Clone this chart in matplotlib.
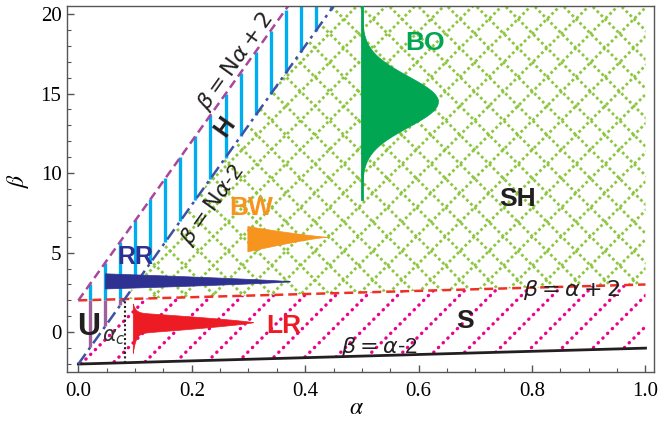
import numpy as np
import matplotlib
import matplotlib.pyplot as plt
from matplotlib.patches import Polygon

matplotlib.use("Agg")

plt.rcParams["mathtext.fontset"] = "stix"
plt.rcParams["font.family"] = ["Liberation Sans", "DejaVu Sans"]

# ---- data -------------------------------------------------------------
N = 50
alpha_lim = (-0.02, 1.015)
beta_lim = (-2.5, 20.5)
x_ticks = [0.0, 0.2, 0.4, 0.6, 0.8, 1.0]
y_ticks = [0, 5, 10, 15, 20]
alpha_max = 1.0
alpha_c = 4 / (N - 1)  # where beta = N*alpha - 2 meets beta = alpha + 2

# BO : gaussian lobe standing on alpha = 0.5
bo_alpha = 0.5
bo_beta_range = (8.4, 20.5)
bo_peak_beta = 14.5
bo_peak_width = 0.134
bo_sigma = 1.6

# wedges: (alpha start, alpha tip, top, bottom, tip beta, taper power)
bw_wedge = (0.298, 0.438, 6.67, 5.08, 6.0, 1.2)
rr_wedge = (0.047, 0.373, 3.7, 2.75, 3.2, 0.8)
lr_wedge = (0.096, 0.308, 1.25, -0.07, 0.63, 0.8)
lr_spike = (0.55, 1.23)  # extra height up / down of the left spike

# labels: text, alpha, beta, colour, size
region_labels = [
    ("BO", 0.611, 18.2, "#00a651", 19),
    ("SH", 0.775, 8.4, "#231f20", 19),
    ("BW", 0.304, 7.83, "#f7941d", 19),
    ("RR", 0.101, 4.7, "#2e3192", 18),
    ("LR", 0.362, 0.38, "#ed1c24", 19),
    ("S", 0.681, 0.69, "#231f20", 19),
    ("U", 0.0185, 0.31, "#231f20", 23),
]

# ---- figure -------------------------------------------------------------
W, H = 659, 422
fig = plt.figure(figsize=(W / 100, H / 100), dpi=100)
ax_l, ax_r, ax_t, ax_b = 67, 654, 6, 372
ax = fig.add_axes([ax_l / W, 1 - ax_b / H, (ax_r - ax_l) / W, (ax_b - ax_t) / H])
ax.set_xlim(*alpha_lim)
ax.set_ylim(*beta_lim)

# pixels per data unit, used for 45 degree hatching
sx = (ax_r - ax_l) / (alpha_lim[1] - alpha_lim[0])
sy = (ax_b - ax_t) / (beta_lim[1] - beta_lim[0])
k45 = sx / sy

top = beta_lim[1]
a_top_plus = (top - 2) / N   # beta = N*alpha + 2 reaches the top
a_top_minus = (top + 2) / N  # beta = N*alpha - 2 reaches the top


def region(verts):
    p = Polygon(verts, closed=True, facecolor="none", edgecolor="none")
    ax.add_patch(p)
    return p


def hatch(clip, direction, spacing_px, color, lw, style, cap):
    step = spacing_px / sx
    a = np.array(alpha_lim)
    if direction > 0:
        starts = np.arange(alpha_lim[0] - top / k45, alpha_lim[1] + 3 / k45, step)
    else:
        starts = np.arange(alpha_lim[0] - 3 / k45, alpha_lim[1] + top / k45, step)
    for a0 in starts:
        ln, = ax.plot(a, direction * k45 * (a - a0), color=color, lw=lw,
                      linestyle=style, dash_capstyle=cap, zorder=1)
        ln.set_clip_path(clip)


# SH: green lattice
sh_clip = region([(alpha_c, alpha_c + 2), (alpha_max, alpha_max + 2),
                  (alpha_max, top), (a_top_minus, top)])
for d in (1, -1):
    hatch(sh_clip, d, 29, "#8dc63f", 2.0, (0, (1, 1)), "butt")

# S: magenta dotted diagonals
s_clip = region([(0, -2), (alpha_max, alpha_max - 2), (alpha_max, alpha_max + 2),
                 (alpha_c, alpha_c + 2)])
hatch(s_clip, 1, 31, "#ec008c", 2.4, (0, (0.1, 1.9)), "round")

# H and U: vertical stripes
for a in np.arange(0.021, 0.45, 0.0265):
    hi = min(N * a + 2, top)
    lo = max(a + 2, N * a - 2)
    if hi > lo:
        ax.plot([a, a], [lo, hi], color="#00aeef", lw=2.4, zorder=1,
                solid_capstyle="butt")
    if N * a - 2 < a + 2:
        ax.plot([a, a], [N * a - 2, a + 2], color="#a0609c", lw=2.4, zorder=1,
                solid_capstyle="butt")

# ---- boundary lines ------------------------------------------------------
a_line = np.array([0, alpha_max])
ax.plot(a_line, a_line - 2, color="#231f20", lw=2.0, zorder=2)
ax.plot(a_line, a_line + 2, color="#ee3124", lw=1.8, ls=(0, (3.6, 2)), zorder=2)
ax.plot([0, a_top_plus], [2, top], color="#a8479b", lw=1.8, ls=(0, (3.5, 2)), zorder=2)
ax.plot([0, a_top_minus], [-2, top], color="#3f51a3", lw=1.8,
        ls=(0, (5, 2, 1.2, 2)), zorder=2)
ax.plot([alpha_c, alpha_c], [alpha_c - 2, alpha_c + 2], color="#231f20",
        lw=1.5, ls=(0, (1, 1.2)), zorder=2)


# ---- shapes --------------------------------------------------------------
def wedge(w, color, spike=None):
    a0, a1, hi, lo, tip, p = w
    a = np.linspace(a0, a1, 400)
    env = (1 - (a - a0) / (a1 - a0)) ** p
    upper = tip + (hi - tip) * env
    lower = tip - (tip - lo) * env
    if spike is not None:
        dec = np.exp(-(a - a0) / 0.005)
        upper = upper + spike[0] * dec
        lower = lower - spike[1] * dec
    ax.fill_between(a, lower, upper, color=color, lw=0.5, zorder=3)


wedge(bw_wedge, "#f7941d")
wedge(rr_wedge, "#2e3192")
wedge(lr_wedge, "#ed1c24", lr_spike)

b = np.linspace(*bo_beta_range, 400)
ax.fill_betweenx(b, bo_alpha,
                 bo_alpha + bo_peak_width * np.exp(-(b - bo_peak_beta) ** 2 / (2 * bo_sigma ** 2)),
                 color="#00a651", lw=0.5, zorder=3)
ax.plot([bo_alpha, bo_alpha], bo_beta_range, color="#00a651", lw=2, zorder=3)

# ---- text ----------------------------------------------------------------
rot = np.degrees(np.arctan(N * sy / sx))
for txt, a, bb, c, s in region_labels:
    ax.text(a, bb, txt, color=c, fontsize=s, fontweight="bold",
            ha="center", va="center", zorder=4)
ax.text(0.258, 12.9, "H", color="#231f20", fontsize=18, fontweight="bold",
        rotation=rot, ha="center", va="center", zorder=4)
ax.text(0.063, -0.3, r"$\alpha_c$", color="#333333", fontsize=15,
        math_fontfamily="dejavusans", ha="center", va="center", zorder=4)

eq_kw = dict(color="#231f20", fontsize=16, math_fontfamily="dejavusans",
             ha="center", va="center", zorder=4, rotation_mode="anchor")
ax.text(0.276, 17.0, r"$\beta=\mathrm{N}\alpha+2$", rotation=rot, **eq_kw)
ax.text(0.236, 8.0, r"$\beta=\mathrm{N}\alpha$-2", rotation=rot, **eq_kw)
ax.text(0.869, 2.64, r"$\beta=\alpha+2$", **eq_kw)
ax.text(0.53, -0.94, r"$\beta=\alpha$-2", **eq_kw)

# ---- axes styling ---------------------------------------------------------
ax.set_xticks(x_ticks)
ax.set_yticks(y_ticks)
ax.set_xticks(np.arange(0, 1.001, 0.05), minor=True)
ax.set_yticks(np.arange(-2, 20.5, 1), minor=True)
ax.set_xticklabels([f"{v:.1f}" for v in x_ticks])
for lab in ax.get_xticklabels() + ax.get_yticklabels():
    lab.set_family("Liberation Serif")
    lab.set_fontsize(15)
ax.tick_params(which="both", direction="in", color="#555555", top=False, right=False)
ax.tick_params(which="major", length=5, width=1)
ax.tick_params(which="minor", length=3, width=0.8)
ax.tick_params(axis="x", pad=7)
ax.tick_params(axis="y", pad=4)
for sp in ax.spines.values():
    sp.set_color("#555555")
    sp.set_linewidth(1.0)

ax.set_xlabel(r"$\alpha$", fontsize=17, va="center", ha="center")
ax.set_ylabel(r"$\beta$", fontsize=17, va="center", ha="center")
ax.xaxis.set_label_coords((356 - ax_l) / (ax_r - ax_l), -(408 - ax_b) / (ax_b - ax_t))
ax.yaxis.set_label_coords(-(ax_l - 18) / (ax_r - ax_l), (ax_b - 180) / (ax_b - ax_t))

fig.savefig("out.png", dpi=100)
